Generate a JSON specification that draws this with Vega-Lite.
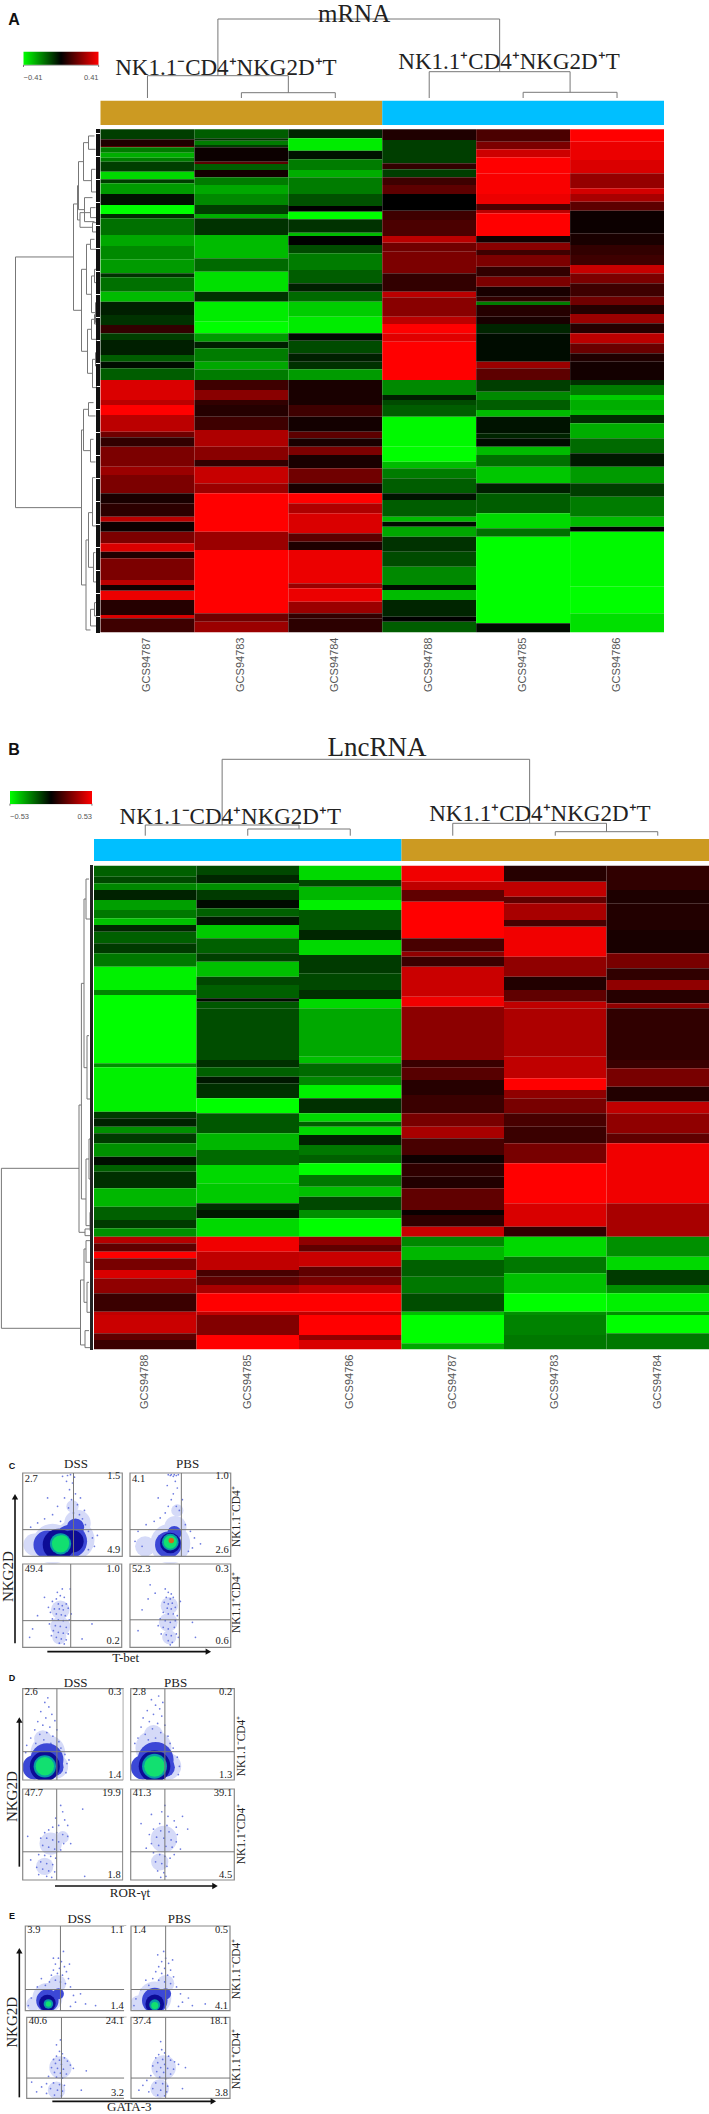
{"$schema":"https://vega.github.io/schema/vega-lite/v6.json","width":709,"height":2114,"autosize":"none","padding":0,"background":"white",
"config":{"view":{"stroke":null},"axis":{"disable":true},"text":{"font":"Liberation Serif","color":"#222"},"rule":{"color":"#777"}},
"datasets":{
"mask":[{"x":-7,"x2":107,"y":-7,"y2":0},{"x":-7,"x2":0,"y":-7,"y2":100}],
"frame":[{"x":0,"x2":100,"y":0,"y2":100}],
"bracketA":[{"l":1.5,"r":2.5,"h":5.3,"hl":0,"hr":0},{"l":0.5,"r":2,"h":22.3,"hl":0,"hr":5.3},{"l":4.5,"r":5.5,"h":5.7,"hl":0,"hr":0},{"l":3.5,"r":5,"h":26.3,"hl":0,"hr":5.7},{"l":1.25,"r":4.25,"h":79,"hl":22.3,"hr":26.3},{"l":-0.82,"r":-0.02,"h":33,"hl":31,"hr":31}],
"bracketB":[{"l":1.5,"r":2.5,"h":6.7,"hl":0,"hr":0},{"l":0.5,"r":2,"h":10.7,"hl":0,"hr":6.7},{"l":4.5,"r":5.5,"h":4,"hl":0,"hr":0},{"l":3.5,"r":5,"h":12.4,"hl":0,"hr":4},{"l":1.25,"r":4.25,"h":76.4,"hl":10.7,"hr":12.4},{"l":-0.82,"r":-0.02,"h":32,"hl":30,"hr":30}],
"heatA":[
{"s":"787","g":0,"h":30,"v":-0.1},{"s":"787","g":30,"h":50,"v":0.05},{"s":"787","g":50,"h":54,"v":0.15},{"s":"787","g":54,"h":70,"v":-0.2},{"s":"787","g":70,"h":85,"v":-0.28},{"s":"787","g":85,"h":97,"v":-0.2},{"s":"787","g":97,"h":127,"v":-0.1},{"s":"787","g":127,"h":150,"v":-0.35},{"s":"787","g":150,"h":162,"v":-0.1},{"s":"787","g":162,"h":194,"v":-0.25},{"s":"787","g":194,"h":227,"v":-0.03},{"s":"787","g":227,"h":254,"v":-0.41},{"s":"787","g":254,"h":267,"v":-0.07},{"s":"787","g":267,"h":317,"v":-0.18},{"s":"787","g":317,"h":350,"v":-0.27},{"s":"787","g":350,"h":390,"v":-0.22},{"s":"787","g":390,"h":432,"v":-0.25},{"s":"787","g":432,"h":444,"v":-0.08},{"s":"787","g":444,"h":487,"v":-0.18},{"s":"787","g":487,"h":517,"v":-0.3},{"s":"787","g":517,"h":557,"v":-0.05},{"s":"787","g":557,"h":587,"v":-0.08},{"s":"787","g":587,"h":612,"v":0.08},{"s":"787","g":612,"h":632,"v":-0.1},{"s":"787","g":632,"h":677,"v":-0.05},{"s":"787","g":677,"h":697,"v":-0.15},{"s":"787","g":697,"h":717,"v":-0.02},{"s":"787","g":717,"h":752,"v":-0.15},{"s":"787","g":752,"h":812,"v":0.35},{"s":"787","g":812,"h":827,"v":0.3},{"s":"787","g":827,"h":857,"v":0.41},{"s":"787","g":857,"h":907,"v":0.3},{"s":"787","g":907,"h":924,"v":0.18},{"s":"787","g":924,"h":952,"v":0.08},{"s":"787","g":952,"h":1012,"v":0.2},{"s":"787","g":1012,"h":1037,"v":0.25},{"s":"787","g":1037,"h":1092,"v":0.2},{"s":"787","g":1092,"h":1122,"v":0.04},{"s":"787","g":1122,"h":1162,"v":0.07},{"s":"787","g":1162,"h":1177,"v":0.3},{"s":"787","g":1177,"h":1207,"v":0.02},{"s":"787","g":1207,"h":1242,"v":0.2},{"s":"787","g":1242,"h":1267,"v":0.35},{"s":"787","g":1267,"h":1287,"v":0.05},{"s":"787","g":1287,"h":1352,"v":0.2},{"s":"787","g":1352,"h":1367,"v":0.3},{"s":"787","g":1367,"h":1384,"v":0.03},{"s":"787","g":1384,"h":1412,"v":0.38},{"s":"787","g":1412,"h":1457,"v":0.06},{"s":"787","g":1457,"h":1467,"v":0.35},{"s":"787","g":1467,"h":1509,"v":0.1},
{"s":"783","g":0,"h":27,"v":-0.15},{"s":"783","g":27,"h":34,"v":-0.08},{"s":"783","g":34,"h":47,"v":-0.2},{"s":"783","g":47,"h":54,"v":-0.1},{"s":"783","g":54,"h":97,"v":0.02},{"s":"783","g":97,"h":104,"v":0.15},{"s":"783","g":104,"h":122,"v":-0.15},{"s":"783","g":122,"h":144,"v":0.03},{"s":"783","g":144,"h":167,"v":-0.2},{"s":"783","g":167,"h":194,"v":-0.27},{"s":"783","g":194,"h":227,"v":-0.22},{"s":"783","g":227,"h":254,"v":-0.1},{"s":"783","g":254,"h":267,"v":-0.28},{"s":"783","g":267,"h":317,"v":-0.08},{"s":"783","g":317,"h":387,"v":-0.3},{"s":"783","g":387,"h":427,"v":-0.17},{"s":"783","g":427,"h":487,"v":-0.36},{"s":"783","g":487,"h":517,"v":-0.08},{"s":"783","g":517,"h":577,"v":-0.38},{"s":"783","g":577,"h":612,"v":-0.41},{"s":"783","g":612,"h":637,"v":-0.25},{"s":"783","g":637,"h":657,"v":-0.05},{"s":"783","g":657,"h":697,"v":-0.2},{"s":"783","g":697,"h":720,"v":-0.27},{"s":"783","g":720,"h":752,"v":-0.2},{"s":"783","g":752,"h":782,"v":0.1},{"s":"783","g":782,"h":812,"v":0.22},{"s":"783","g":812,"h":827,"v":0.08},{"s":"783","g":827,"h":862,"v":0.06},{"s":"783","g":862,"h":902,"v":0.1},{"s":"783","g":902,"h":952,"v":0.28},{"s":"783","g":952,"h":992,"v":0.22},{"s":"783","g":992,"h":1012,"v":0.08},{"s":"783","g":1012,"h":1062,"v":0.32},{"s":"783","g":1062,"h":1092,"v":0.25},{"s":"783","g":1092,"h":1207,"v":0.41},{"s":"783","g":1207,"h":1262,"v":0.25},{"s":"783","g":1262,"h":1452,"v":0.41},{"s":"783","g":1452,"h":1477,"v":0.18},{"s":"783","g":1477,"h":1509,"v":0.25},
{"s":"784","g":0,"h":27,"v":-0.06},{"s":"784","g":27,"h":64,"v":-0.38},{"s":"784","g":64,"h":90,"v":-0.03},{"s":"784","g":90,"h":122,"v":-0.2},{"s":"784","g":122,"h":144,"v":-0.28},{"s":"784","g":144,"h":194,"v":-0.2},{"s":"784","g":194,"h":230,"v":-0.13},{"s":"784","g":230,"h":247,"v":0},{"s":"784","g":247,"h":270,"v":-0.41},{"s":"784","g":270,"h":310,"v":-0.08},{"s":"784","g":310,"h":320,"v":-0.3},{"s":"784","g":320,"h":347,"v":0},{"s":"784","g":347,"h":372,"v":-0.12},{"s":"784","g":372,"h":422,"v":-0.2},{"s":"784","g":422,"h":462,"v":-0.15},{"s":"784","g":462,"h":487,"v":-0.05},{"s":"784","g":487,"h":517,"v":-0.17},{"s":"784","g":517,"h":562,"v":-0.33},{"s":"784","g":562,"h":612,"v":-0.38},{"s":"784","g":612,"h":634,"v":-0.02},{"s":"784","g":634,"h":672,"v":-0.12},{"s":"784","g":672,"h":697,"v":-0.05},{"s":"784","g":697,"h":720,"v":-0.08},{"s":"784","g":720,"h":752,"v":-0.25},{"s":"784","g":752,"h":812,"v":0.04},{"s":"784","g":812,"h":827,"v":0.04},{"s":"784","g":827,"h":862,"v":0.1},{"s":"784","g":862,"h":907,"v":0.03},{"s":"784","g":907,"h":927,"v":0.15},{"s":"784","g":927,"h":952,"v":0.04},{"s":"784","g":952,"h":977,"v":0.2},{"s":"784","g":977,"h":1017,"v":0.04},{"s":"784","g":1017,"h":1062,"v":0.18},{"s":"784","g":1062,"h":1092,"v":0.04},{"s":"784","g":1092,"h":1122,"v":0.41},{"s":"784","g":1122,"h":1152,"v":0.28},{"s":"784","g":1152,"h":1212,"v":0.35},{"s":"784","g":1212,"h":1237,"v":0.15},{"s":"784","g":1237,"h":1262,"v":0.05},{"s":"784","g":1262,"h":1362,"v":0.38},{"s":"784","g":1362,"h":1377,"v":0.25},{"s":"784","g":1377,"h":1417,"v":0.38},{"s":"784","g":1417,"h":1452,"v":0.25},{"s":"784","g":1452,"h":1467,"v":0.08},{"s":"784","g":1467,"h":1509,"v":0.07},
{"s":"788","g":0,"h":32,"v":0.05},{"s":"788","g":32,"h":102,"v":-0.1},{"s":"788","g":102,"h":120,"v":0.08},{"s":"788","g":120,"h":144,"v":-0.1},{"s":"788","g":144,"h":167,"v":0.1},{"s":"788","g":167,"h":194,"v":0.15},{"s":"788","g":194,"h":244,"v":0},{"s":"788","g":244,"h":272,"v":0.1},{"s":"788","g":272,"h":320,"v":0.12},{"s":"788","g":320,"h":340,"v":0.3},{"s":"788","g":340,"h":367,"v":0.18},{"s":"788","g":367,"h":432,"v":0.2},{"s":"788","g":432,"h":487,"v":0.08},{"s":"788","g":487,"h":504,"v":0.3},{"s":"788","g":504,"h":562,"v":0.22},{"s":"788","g":562,"h":584,"v":0.3},{"s":"788","g":584,"h":612,"v":0.41},{"s":"788","g":612,"h":637,"v":0.36},{"s":"788","g":637,"h":752,"v":0.41},{"s":"788","g":752,"h":797,"v":-0.22},{"s":"788","g":797,"h":812,"v":-0.05},{"s":"788","g":812,"h":827,"v":-0.12},{"s":"788","g":827,"h":862,"v":-0.15},{"s":"788","g":862,"h":952,"v":-0.4},{"s":"788","g":952,"h":997,"v":-0.41},{"s":"788","g":997,"h":1017,"v":-0.3},{"s":"788","g":1017,"h":1047,"v":-0.2},{"s":"788","g":1047,"h":1092,"v":-0.15},{"s":"788","g":1092,"h":1112,"v":-0.03},{"s":"788","g":1112,"h":1162,"v":-0.15},{"s":"788","g":1162,"h":1177,"v":-0.3},{"s":"788","g":1177,"h":1192,"v":-0.02},{"s":"788","g":1192,"h":1222,"v":-0.27},{"s":"788","g":1222,"h":1267,"v":-0.08},{"s":"788","g":1267,"h":1312,"v":-0.12},{"s":"788","g":1312,"h":1367,"v":-0.22},{"s":"788","g":1367,"h":1382,"v":-0.02},{"s":"788","g":1382,"h":1412,"v":-0.3},{"s":"788","g":1412,"h":1462,"v":-0.06},{"s":"788","g":1462,"h":1477,"v":0},{"s":"788","g":1477,"h":1509,"v":-0.15},
{"s":"785","g":0,"h":37,"v":0.12},{"s":"785","g":37,"h":60,"v":0.2},{"s":"785","g":60,"h":84,"v":0.33},{"s":"785","g":84,"h":132,"v":0.41},{"s":"785","g":132,"h":194,"v":0.4},{"s":"785","g":194,"h":224,"v":0.38},{"s":"785","g":224,"h":242,"v":0.12},{"s":"785","g":242,"h":252,"v":0.3},{"s":"785","g":252,"h":320,"v":0.41},{"s":"785","g":320,"h":340,"v":0.03},{"s":"785","g":340,"h":362,"v":0.22},{"s":"785","g":362,"h":377,"v":0.1},{"s":"785","g":377,"h":412,"v":0.2},{"s":"785","g":412,"h":442,"v":0.08},{"s":"785","g":442,"h":472,"v":0.2},{"s":"785","g":472,"h":502,"v":0.04},{"s":"785","g":502,"h":517,"v":0.08},{"s":"785","g":517,"h":527,"v":-0.2},{"s":"785","g":527,"h":562,"v":0.06},{"s":"785","g":562,"h":584,"v":0.04},{"s":"785","g":584,"h":612,"v":-0.06},{"s":"785","g":612,"h":697,"v":-0.02},{"s":"785","g":697,"h":717,"v":0.25},{"s":"785","g":717,"h":752,"v":0.15},{"s":"785","g":752,"h":787,"v":-0.1},{"s":"785","g":787,"h":812,"v":-0.22},{"s":"785","g":812,"h":842,"v":-0.15},{"s":"785","g":842,"h":862,"v":-0.3},{"s":"785","g":862,"h":912,"v":-0.03},{"s":"785","g":912,"h":927,"v":-0.06},{"s":"785","g":927,"h":952,"v":-0.02},{"s":"785","g":952,"h":977,"v":-0.3},{"s":"785","g":977,"h":1012,"v":-0.18},{"s":"785","g":1012,"h":1062,"v":-0.32},{"s":"785","g":1062,"h":1092,"v":-0.05},{"s":"785","g":1092,"h":1152,"v":-0.15},{"s":"785","g":1152,"h":1197,"v":-0.35},{"s":"785","g":1197,"h":1222,"v":-0.18},{"s":"785","g":1222,"h":1482,"v":-0.41},{"s":"785","g":1482,"h":1509,"v":-0.02},
{"s":"786","g":0,"h":37,"v":0.41},{"s":"786","g":37,"h":92,"v":0.38},{"s":"786","g":92,"h":132,"v":0.35},{"s":"786","g":132,"h":177,"v":0.24},{"s":"786","g":177,"h":194,"v":0.34},{"s":"786","g":194,"h":217,"v":0.27},{"s":"786","g":217,"h":244,"v":0.15},{"s":"786","g":244,"h":312,"v":0.02},{"s":"786","g":312,"h":347,"v":0.04},{"s":"786","g":347,"h":377,"v":0.08},{"s":"786","g":377,"h":407,"v":0.1},{"s":"786","g":407,"h":432,"v":0.32},{"s":"786","g":432,"h":462,"v":0.2},{"s":"786","g":462,"h":502,"v":0.1},{"s":"786","g":502,"h":527,"v":0.18},{"s":"786","g":527,"h":554,"v":0.06},{"s":"786","g":554,"h":582,"v":0.25},{"s":"786","g":582,"h":612,"v":0.06},{"s":"786","g":612,"h":642,"v":0.3},{"s":"786","g":642,"h":672,"v":0.17},{"s":"786","g":672,"h":697,"v":0.05},{"s":"786","g":697,"h":752,"v":0.03},{"s":"786","g":752,"h":767,"v":-0.08},{"s":"786","g":767,"h":797,"v":-0.2},{"s":"786","g":797,"h":812,"v":-0.33},{"s":"786","g":812,"h":842,"v":-0.28},{"s":"786","g":842,"h":857,"v":-0.3},{"s":"786","g":857,"h":882,"v":-0.07},{"s":"786","g":882,"h":927,"v":-0.28},{"s":"786","g":927,"h":972,"v":-0.17},{"s":"786","g":972,"h":1012,"v":-0.04},{"s":"786","g":1012,"h":1062,"v":-0.25},{"s":"786","g":1062,"h":1102,"v":-0.1},{"s":"786","g":1102,"h":1162,"v":-0.2},{"s":"786","g":1162,"h":1192,"v":-0.3},{"s":"786","g":1192,"h":1207,"v":0},{"s":"786","g":1207,"h":1372,"v":-0.4},{"s":"786","g":1372,"h":1452,"v":-0.41},{"s":"786","g":1452,"h":1509,"v":-0.36}],
"heatB":[
{"s":"788","g":0,"h":33,"v":-0.2},{"s":"788","g":33,"h":53,"v":-0.15},{"s":"788","g":53,"h":73,"v":-0.28},{"s":"788","g":73,"h":103,"v":-0.07},{"s":"788","g":103,"h":133,"v":-0.33},{"s":"788","g":133,"h":158,"v":-0.25},{"s":"788","g":158,"h":178,"v":-0.4},{"s":"788","g":178,"h":198,"v":-0.08},{"s":"788","g":198,"h":233,"v":-0.2},{"s":"788","g":233,"h":263,"v":-0.12},{"s":"788","g":263,"h":303,"v":-0.25},{"s":"788","g":303,"h":373,"v":-0.5},{"s":"788","g":373,"h":388,"v":-0.28},{"s":"788","g":388,"h":593,"v":-0.53},{"s":"788","g":593,"h":605,"v":-0.3},{"s":"788","g":605,"h":738,"v":-0.5},{"s":"788","g":738,"h":758,"v":-0.12},{"s":"788","g":758,"h":783,"v":-0.07},{"s":"788","g":783,"h":803,"v":-0.3},{"s":"788","g":803,"h":833,"v":-0.12},{"s":"788","g":833,"h":873,"v":-0.3},{"s":"788","g":873,"h":898,"v":-0.03},{"s":"788","g":898,"h":918,"v":-0.2},{"s":"788","g":918,"h":968,"v":-0.1},{"s":"788","g":968,"h":1023,"v":-0.38},{"s":"788","g":1023,"h":1063,"v":-0.2},{"s":"788","g":1063,"h":1088,"v":-0.12},{"s":"788","g":1088,"h":1113,"v":-0.3},{"s":"788","g":1113,"h":1133,"v":0.38},{"s":"788","g":1133,"h":1158,"v":0.2},{"s":"788","g":1158,"h":1178,"v":0.53},{"s":"788","g":1178,"h":1213,"v":0.25},{"s":"788","g":1213,"h":1238,"v":0.45},{"s":"788","g":1238,"h":1283,"v":0.3},{"s":"788","g":1283,"h":1338,"v":0.12},{"s":"788","g":1338,"h":1348,"v":0.4},{"s":"788","g":1348,"h":1403,"v":0.42},{"s":"788","g":1403,"h":1423,"v":0.2},{"s":"788","g":1423,"h":1451,"v":0.12},
{"s":"785","g":0,"h":28,"v":-0.15},{"s":"785","g":28,"h":53,"v":-0.08},{"s":"785","g":53,"h":73,"v":-0.3},{"s":"785","g":73,"h":103,"v":-0.12},{"s":"785","g":103,"h":128,"v":-0.02},{"s":"785","g":128,"h":153,"v":-0.2},{"s":"785","g":153,"h":178,"v":-0.05},{"s":"785","g":178,"h":218,"v":-0.42},{"s":"785","g":218,"h":263,"v":-0.2},{"s":"785","g":263,"h":288,"v":-0.13},{"s":"785","g":288,"h":333,"v":-0.4},{"s":"785","g":333,"h":358,"v":-0.15},{"s":"785","g":358,"h":398,"v":-0.2},{"s":"785","g":398,"h":408,"v":-0.02},{"s":"785","g":408,"h":428,"v":-0.18},{"s":"785","g":428,"h":583,"v":-0.16},{"s":"785","g":583,"h":605,"v":-0.1},{"s":"785","g":605,"h":633,"v":-0.2},{"s":"785","g":633,"h":653,"v":-0.05},{"s":"785","g":653,"h":698,"v":-0.1},{"s":"785","g":698,"h":743,"v":-0.53},{"s":"785","g":743,"h":803,"v":-0.18},{"s":"785","g":803,"h":853,"v":-0.38},{"s":"785","g":853,"h":898,"v":-0.22},{"s":"785","g":898,"h":953,"v":-0.45},{"s":"785","g":953,"h":1013,"v":-0.42},{"s":"785","g":1013,"h":1033,"v":-0.1},{"s":"785","g":1033,"h":1058,"v":-0.05},{"s":"785","g":1058,"h":1113,"v":-0.45},{"s":"785","g":1113,"h":1158,"v":0.5},{"s":"785","g":1158,"h":1213,"v":0.4},{"s":"785","g":1213,"h":1233,"v":0.15},{"s":"785","g":1233,"h":1258,"v":0.2},{"s":"785","g":1258,"h":1283,"v":0.35},{"s":"785","g":1283,"h":1338,"v":0.53},{"s":"785","g":1338,"h":1348,"v":0.4},{"s":"785","g":1348,"h":1408,"v":0.27},{"s":"785","g":1408,"h":1451,"v":0.53},
{"s":"786","g":0,"h":43,"v":-0.45},{"s":"786","g":43,"h":63,"v":-0.15},{"s":"786","g":63,"h":103,"v":-0.38},{"s":"786","g":103,"h":133,"v":-0.5},{"s":"786","g":133,"h":193,"v":-0.18},{"s":"786","g":193,"h":223,"v":-0.08},{"s":"786","g":223,"h":268,"v":-0.45},{"s":"786","g":268,"h":323,"v":-0.12},{"s":"786","g":323,"h":373,"v":-0.15},{"s":"786","g":373,"h":400,"v":-0.1},{"s":"786","g":400,"h":428,"v":-0.45},{"s":"786","g":428,"h":573,"v":-0.35},{"s":"786","g":573,"h":593,"v":-0.4},{"s":"786","g":593,"h":633,"v":-0.22},{"s":"786","g":633,"h":658,"v":-0.28},{"s":"786","g":658,"h":698,"v":-0.5},{"s":"786","g":698,"h":743,"v":-0.1},{"s":"786","g":743,"h":768,"v":-0.45},{"s":"786","g":768,"h":783,"v":-0.2},{"s":"786","g":783,"h":808,"v":-0.45},{"s":"786","g":808,"h":838,"v":-0.07},{"s":"786","g":838,"h":868,"v":-0.25},{"s":"786","g":868,"h":893,"v":-0.2},{"s":"786","g":893,"h":928,"v":-0.53},{"s":"786","g":928,"h":963,"v":-0.25},{"s":"786","g":963,"h":993,"v":-0.4},{"s":"786","g":993,"h":1033,"v":-0.15},{"s":"786","g":1033,"h":1058,"v":-0.3},{"s":"786","g":1058,"h":1113,"v":-0.53},{"s":"786","g":1113,"h":1138,"v":0.3},{"s":"786","g":1138,"h":1158,"v":0.2},{"s":"786","g":1158,"h":1203,"v":0.42},{"s":"786","g":1203,"h":1233,"v":0.2},{"s":"786","g":1233,"h":1258,"v":0.25},{"s":"786","g":1258,"h":1283,"v":0.4},{"s":"786","g":1283,"h":1338,"v":0.53},{"s":"786","g":1338,"h":1348,"v":0.4},{"s":"786","g":1348,"h":1408,"v":0.53},{"s":"786","g":1408,"h":1423,"v":0.3},{"s":"786","g":1423,"h":1451,"v":0.45},
{"s":"787","g":0,"h":48,"v":0.5},{"s":"787","g":48,"h":73,"v":0.4},{"s":"787","g":73,"h":108,"v":0.2},{"s":"787","g":108,"h":218,"v":0.53},{"s":"787","g":218,"h":258,"v":0.15},{"s":"787","g":258,"h":273,"v":0.3},{"s":"787","g":273,"h":303,"v":0.12},{"s":"787","g":303,"h":393,"v":0.42},{"s":"787","g":393,"h":423,"v":0.5},{"s":"787","g":423,"h":583,"v":0.29},{"s":"787","g":583,"h":605,"v":0.12},{"s":"787","g":605,"h":643,"v":0.18},{"s":"787","g":643,"h":688,"v":0.08},{"s":"787","g":688,"h":743,"v":0.12},{"s":"787","g":743,"h":783,"v":0.25},{"s":"787","g":783,"h":818,"v":0.35},{"s":"787","g":818,"h":868,"v":0.15},{"s":"787","g":868,"h":893,"v":0.03},{"s":"787","g":893,"h":933,"v":0.1},{"s":"787","g":933,"h":968,"v":0.07},{"s":"787","g":968,"h":1033,"v":0.2},{"s":"787","g":1033,"h":1048,"v":0.02},{"s":"787","g":1048,"h":1083,"v":0.1},{"s":"787","g":1083,"h":1113,"v":0.42},{"s":"787","g":1113,"h":1143,"v":-0.28},{"s":"787","g":1143,"h":1183,"v":-0.38},{"s":"787","g":1183,"h":1233,"v":-0.2},{"s":"787","g":1233,"h":1283,"v":-0.25},{"s":"787","g":1283,"h":1338,"v":-0.16},{"s":"787","g":1338,"h":1348,"v":-0.4},{"s":"787","g":1348,"h":1433,"v":-0.53},{"s":"787","g":1433,"h":1451,"v":-0.35},
{"s":"783","g":0,"h":48,"v":0.08},{"s":"783","g":48,"h":93,"v":0.4},{"s":"783","g":93,"h":113,"v":0.2},{"s":"783","g":113,"h":163,"v":0.35},{"s":"783","g":163,"h":183,"v":0.15},{"s":"783","g":183,"h":273,"v":0.5},{"s":"783","g":273,"h":333,"v":0.3},{"s":"783","g":333,"h":373,"v":0.07},{"s":"783","g":373,"h":408,"v":0.2},{"s":"783","g":408,"h":428,"v":0.4},{"s":"783","g":428,"h":573,"v":0.36},{"s":"783","g":573,"h":638,"v":0.4},{"s":"783","g":638,"h":673,"v":0.53},{"s":"783","g":673,"h":698,"v":0.3},{"s":"783","g":698,"h":743,"v":0.25},{"s":"783","g":743,"h":783,"v":0.15},{"s":"783","g":783,"h":833,"v":0.12},{"s":"783","g":833,"h":893,"v":0.25},{"s":"783","g":893,"h":1013,"v":0.53},{"s":"783","g":1013,"h":1083,"v":0.45},{"s":"783","g":1083,"h":1113,"v":0.1},{"s":"783","g":1113,"h":1173,"v":-0.45},{"s":"783","g":1173,"h":1223,"v":-0.25},{"s":"783","g":1223,"h":1283,"v":-0.4},{"s":"783","g":1283,"h":1338,"v":-0.53},{"s":"783","g":1338,"h":1348,"v":-0.3},{"s":"783","g":1348,"h":1408,"v":-0.27},{"s":"783","g":1408,"h":1451,"v":-0.25},
{"s":"784","g":0,"h":73,"v":0.1},{"s":"784","g":73,"h":113,"v":0.06},{"s":"784","g":113,"h":193,"v":0.07},{"s":"784","g":193,"h":263,"v":0.05},{"s":"784","g":263,"h":308,"v":0.25},{"s":"784","g":308,"h":343,"v":0.1},{"s":"784","g":343,"h":373,"v":0.3},{"s":"784","g":373,"h":413,"v":0.08},{"s":"784","g":413,"h":428,"v":0.3},{"s":"784","g":428,"h":583,"v":0.1},{"s":"784","g":583,"h":608,"v":0.12},{"s":"784","g":608,"h":663,"v":0.25},{"s":"784","g":663,"h":708,"v":0.07},{"s":"784","g":708,"h":743,"v":0.4},{"s":"784","g":743,"h":803,"v":0.3},{"s":"784","g":803,"h":833,"v":0.2},{"s":"784","g":833,"h":1013,"v":0.5},{"s":"784","g":1013,"h":1113,"v":0.35},{"s":"784","g":1113,"h":1173,"v":-0.3},{"s":"784","g":1173,"h":1213,"v":-0.45},{"s":"784","g":1213,"h":1258,"v":-0.12},{"s":"784","g":1258,"h":1283,"v":-0.3},{"s":"784","g":1283,"h":1338,"v":-0.5},{"s":"784","g":1338,"h":1348,"v":-0.3},{"s":"784","g":1348,"h":1403,"v":-0.53},{"s":"784","g":1403,"h":1451,"v":-0.25}]
},
"resolve":{"scale":{"x":"independent","y":"independent","color":"independent","size":"independent"}},
"layer":[
{"data":{"name":"heatA"},"mark":"rect","encoding":{"x":{"field":"s","type":"nominal","scale":{"domain":["787","783","784","788","785","786"],"range":[100.5,664],"paddingInner":0,"paddingOuter":0},"axis":{"disable":false,"orient":"bottom","offset":-1477,"title":null,"domain":false,"ticks":false,"grid":false,"labelAngle":270,"labelAlign":"right","labelBaseline":"middle","labelPadding":0,"labelFont":"Liberation Sans","labelFontSize":11,"labelColor":"#555","labelExpr":"'GCS94'+datum.label"}},"y":{"field":"g","type":"quantitative","scale":{"domain":[0,1509],"range":[129.3,632.3]}},"y2":{"field":"h"},"color":{"field":"v","type":"quantitative","scale":{"domain":[-0.41,0,0.41],"range":["#00ff00","#000000","#ff0000"],"interpolate":"rgb"},"legend":{"orient":"none","legendX":23.5,"legendY":51.7,"direction":"horizontal","title":null,"gradientLength":75,"gradientThickness":13,"values":[-0.41,0.41],"format":".2f","labelFontSize":7.5,"labelColor":"#555","labelFont":"Liberation Sans","labelOverlap":false,"labelOffset":9}}}},
{"data":{"values":[{"d":85,"t":383,"b":1135,"dt":27,"db":19},{"d":27,"t":224,"b":543,"dt":23,"db":19},{"d":23,"t":169,"b":272,"dt":22,"db":20.5},{"d":22,"t":97,"b":241,"dt":17,"db":16},{"d":17,"t":40,"b":154,"dt":12,"db":9},{"d":12,"t":20,"b":60,"dt":6,"db":5},{"d":9,"t":120,"b":188,"dt":5,"db":4},{"d":16,"t":205,"b":277,"dt":8,"db":6},{"d":20.5,"t":250,"b":294,"dt":10,"db":8},{"d":10,"t":235,"b":265,"dt":5,"db":4},{"d":8,"t":280,"b":308,"dt":4,"db":3},{"d":19,"t":420,"b":666,"dt":14,"db":13},{"d":14,"t":345,"b":495,"dt":10,"db":9},{"d":10,"t":330,"b":360,"dt":6,"db":4},{"d":9,"t":440,"b":550,"dt":6,"db":5},{"d":6,"t":420,"b":460,"dt":3,"db":3},{"d":5,"t":520,"b":580,"dt":3,"db":2},{"d":13,"t":600,"b":732,"dt":9,"db":8},{"d":9,"t":570,"b":630,"dt":6,"db":4},{"d":8,"t":690,"b":775,"dt":5,"db":4},{"d":6,"t":556,"b":584,"dt":3,"db":2},{"d":4,"t":600,"b":650,"dt":2,"db":2},{"d":5,"t":670,"b":710,"dt":3,"db":2},{"d":4,"t":745,"b":800,"dt":2,"db":2},{"d":19,"t":902,"b":1367,"dt":17,"db":14.5},{"d":17,"t":840,"b":964,"dt":12,"db":10},{"d":12,"t":820,"b":860,"dt":7,"db":5},{"d":10,"t":930,"b":998,"dt":7,"db":5},{"d":14.5,"t":1232,"b":1502,"dt":12,"db":10},{"d":12,"t":1150,"b":1314,"dt":8,"db":7},{"d":10,"t":1440,"b":1490,"dt":6,"db":4},{"d":8,"t":1045,"b":1190,"dt":5,"db":4},{"d":7,"t":1270,"b":1358,"dt":5,"db":4},{"d":6,"t":1420,"b":1460,"dt":3,"db":3}]},
"encoding":{"x":{"field":"d","type":"quantitative","scale":{"domain":[100.5,0],"range":[0,100.5]}},"y":{"field":"t","type":"quantitative","scale":{"domain":[0,1509],"range":[129.3,632.3]}}},
"layer":[
{"mark":"rule","encoding":{"y2":{"field":"b"}}},
{"mark":"rule","encoding":{"x2":{"field":"dt"}}},
{"mark":"rule","encoding":{"x2":{"field":"db"},"y":{"field":"b","type":"quantitative"}}},
{"mark":{"type":"rule","strokeWidth":3,"color":"#111","strokeDash":[1.5,0.8]},"encoding":{"x":{"datum":2.5},"y":{"datum":0},"y2":{"datum":1509}}}
]},
{"encoding":{"x":{"field":"l","type":"quantitative","scale":{"domain":[0,6],"range":[100.5,664]}},"y":{"field":"h","type":"quantitative","scale":{"domain":[0,98],"range":[98,0]}}},
"layer":[
{"data":{"values":[{"l":0,"r":3,"k":"gold","h":-2.7,"i":-27},{"l":3,"r":6,"k":"blue","h":-2.7,"i":-27}]},"mark":"rect","encoding":{"x2":{"field":"r"},"y2":{"field":"i"},"color":{"field":"k","type":"nominal","scale":{"domain":["gold","blue"],"range":["#cc9a22","#00bfff"]},"legend":null}}},
{"data":{"name":"bracketA"},"mark":"rule","encoding":{"x2":{"field":"r"}}},
{"data":{"name":"bracketA"},"mark":"rule","encoding":{"y2":{"field":"hl"}}},
{"data":{"name":"bracketA"},"mark":"rule","encoding":{"x":{"field":"r","type":"quantitative"},"y2":{"field":"hr"}}},
{"data":{"values":[{"l":2.7,"h":76,"t":"mRNA"}]},"mark":{"type":"text","fontSize":25,"baseline":"alphabetic"},"encoding":{"text":{"field":"t"}}},
{"data":{"values":[{"l":1.335,"h":23,"t":"NK1.1⁻CD4⁺NKG2D⁺T"},{"l":4.35,"h":29,"t":"NK1.1⁺CD4⁺NKG2D⁺T"}]},"mark":{"type":"text","fontSize":23,"baseline":"alphabetic"},"encoding":{"text":{"field":"t"}}},
{"data":{"values":[{"l":-0.92,"h":73,"t":"A"}]},"mark":{"type":"text","font":"Liberation Sans","fontWeight":"bold","fontSize":16,"baseline":"alphabetic","color":"#111"},"encoding":{"text":{"field":"t"}}}
]},
{"data":{"name":"heatB"},"mark":"rect","encoding":{"x":{"field":"s","type":"nominal","scale":{"domain":["788","785","786","787","783","784"],"range":[94,709],"paddingInner":0,"paddingOuter":0},"axis":{"disable":false,"orient":"bottom","offset":-760,"title":null,"domain":false,"ticks":false,"grid":false,"labelAngle":270,"labelAlign":"right","labelBaseline":"middle","labelPadding":0,"labelFont":"Liberation Sans","labelFontSize":11,"labelColor":"#555","labelExpr":"'GCS94'+datum.label"}},"y":{"field":"g","type":"quantitative","scale":{"domain":[0,1451],"range":[865.7,1349.3]}},"y2":{"field":"h"},"color":{"field":"v","type":"quantitative","scale":{"domain":[-0.53,0,0.53],"range":["#00ff00","#000000","#ff0000"],"interpolate":"rgb"},"legend":{"orient":"none","legendX":10,"legendY":791,"direction":"horizontal","title":null,"gradientLength":82,"gradientThickness":13,"values":[-0.53,0.53],"format":".2f","labelFontSize":7.5,"labelColor":"#555","labelFont":"Liberation Sans","labelOverlap":false,"labelOffset":9}}}},
{"data":{"values":[{"d":92.6,"t":908,"b":1388,"dt":15,"db":13.5},{"d":15,"t":718,"b":1100,"dt":12.6,"db":9},{"d":12.6,"t":353,"b":1000,"dt":10,"db":8},{"d":10,"t":100,"b":606,"dt":8,"db":7},{"d":8,"t":40,"b":160,"dt":5,"db":4},{"d":7,"t":510,"b":700,"dt":5,"db":4},{"d":8,"t":880,"b":1080,"dt":5,"db":4},{"d":5,"t":820,"b":940,"dt":3,"db":3},{"d":4,"t":1040,"b":1095,"dt":3,"db":2},{"d":9,"t":1090,"b":1110,"dt":3,"db":2},{"d":13.5,"t":1243,"b":1438,"dt":10,"db":9},{"d":10,"t":1150,"b":1310,"dt":8,"db":7},{"d":8,"t":1125,"b":1190,"dt":4,"db":3},{"d":7,"t":1250,"b":1340,"dt":5,"db":4},{"d":9,"t":1395,"b":1446,"dt":5,"db":4}]},
"encoding":{"x":{"field":"d","type":"quantitative","scale":{"domain":[94,0],"range":[0,94]}},"y":{"field":"t","type":"quantitative","scale":{"domain":[0,1451],"range":[865.7,1349.3]}}},
"layer":[
{"mark":"rule","encoding":{"y2":{"field":"b"}}},
{"mark":"rule","encoding":{"x2":{"field":"dt"}}},
{"mark":"rule","encoding":{"x2":{"field":"db"},"y":{"field":"b","type":"quantitative"}}},
{"mark":{"type":"rule","strokeWidth":3,"color":"#222","strokeDash":[1.5,1]},"encoding":{"x":{"datum":2.5},"y":{"datum":0},"y2":{"datum":1451}}}
]},
{"encoding":{"x":{"field":"l","type":"quantitative","scale":{"domain":[0,6],"range":[94,709]}},"y":{"field":"h","type":"quantitative","scale":{"domain":[0,98],"range":[835.7,737.7]}}},
"layer":[
{"data":{"values":[{"l":0,"r":3,"k":"blue","h":-3.3,"i":-25.3},{"l":3,"r":6,"k":"gold","h":-3.3,"i":-25.3}]},"mark":"rect","encoding":{"x2":{"field":"r"},"y2":{"field":"i"},"color":{"field":"k","type":"nominal","scale":{"domain":["gold","blue"],"range":["#cc9a22","#00bfff"]},"legend":null}}},
{"data":{"name":"bracketB"},"mark":"rule","encoding":{"x2":{"field":"r"}}},
{"data":{"name":"bracketB"},"mark":"rule","encoding":{"y2":{"field":"hl"}}},
{"data":{"name":"bracketB"},"mark":"rule","encoding":{"x":{"field":"r","type":"quantitative"},"y2":{"field":"hr"}}},
{"data":{"values":[{"l":2.76,"h":80,"t":"LncRNA"}]},"mark":{"type":"text","fontSize":27,"baseline":"alphabetic"},"encoding":{"text":{"field":"t"}}},
{"data":{"values":[{"l":1.33,"h":11.7,"t":"NK1.1⁻CD4⁺NKG2D⁺T"},{"l":4.35,"h":15,"t":"NK1.1⁺CD4⁺NKG2D⁺T"}]},"mark":{"type":"text","fontSize":23,"baseline":"alphabetic"},"encoding":{"text":{"field":"t"}}},
{"data":{"values":[{"l":-0.78,"h":80.7,"t":"B"}]},"mark":{"type":"text","font":"Liberation Sans","fontWeight":"bold","fontSize":16,"baseline":"alphabetic","color":"#111"},"encoding":{"text":{"field":"t"}}}
]},
{"encoding":{"x":{"field":"x","type":"quantitative","scale":{"domain":[0,100],"range":[22.7,122.3]}},"y":{"field":"y","type":"quantitative","scale":{"domain":[0,100],"range":[1556.3,1473]}}},"layer":[
{"data":{"values":[{"x":12,"y":14,"n":500,"d":1},{"x":30,"y":15,"n":1600,"d":1},{"x":52,"y":20,"n":1600,"d":1},{"x":55,"y":40,"n":700,"d":1},{"x":50,"y":60,"n":150,"d":1},{"x":25,"y":14,"n":800,"d":2},{"x":48,"y":18,"n":1100,"d":2},{"x":53,"y":35,"n":300,"d":2},{"x":36,"y":14,"n":1000,"d":3},{"x":50,"y":18,"n":500,"d":3},{"x":38,"y":15,"n":450,"d":4},{"x":38,"y":15,"n":300,"d":5},{"x":40,"y":18,"n":150,"d":5}]},"mark":{"type":"circle","opacity":1},"encoding":{"size":{"field":"n","type":"quantitative","scale":{"domain":[0,1000],"range":[0,1000]},"legend":null},"color":{"field":"d","type":"ordinal","scale":{"domain":[1,2,3,4,5,6],"range":["#d5daf8","#3c48d6","#0c0c96","#0a9aa8","#12e070","#d06a1a"]},"legend":null}}},
{"data":{"values":[{"x":45,"y":97},{"x":48,"y":98},{"x":40,"y":96},{"x":52,"y":95},{"x":50,"y":88},{"x":47,"y":80},{"x":53,"y":75},{"x":49,"y":68},{"x":55,"y":62},{"x":46,"y":58},{"x":51,"y":52},{"x":57,"y":50},{"x":60,"y":45},{"x":63,"y":38},{"x":42,"y":70},{"x":35,"y":60},{"x":30,"y":50},{"x":22,"y":45},{"x":15,"y":40},{"x":8,"y":35},{"x":38,"y":42},{"x":66,"y":30},{"x":70,"y":22},{"x":72,"y":12},{"x":66,"y":8},{"x":75,"y":25},{"x":62,"y":55},{"x":58,"y":70},{"x":44,"y":90},{"x":25,"y":70}]},"mark":{"type":"circle","size":3,"color":"#4a5bd8","opacity":0.8}},
{"data":{"name":"mask"},"mark":{"type":"rect","color":"white"},"encoding":{"x2":{"field":"x2"},"y2":{"field":"y2"}}},
{"data":{"name":"frame"},"mark":{"type":"rect","fill":null,"stroke":"#888","strokeWidth":1.2},"encoding":{"x2":{"field":"x2"},"y2":{"field":"y2"}}},
{"data":{"values":[{"x":51,"x2":51,"y":0,"y2":100},{"x":0,"x2":100,"y":32,"y2":32}]},"mark":"rule","encoding":{"x2":{"field":"x2"},"y2":{"field":"y2"}}},
{"data":{"values":[{"x":2,"y":93,"t":"2.7"}]},"mark":{"type":"text","align":"left","fontSize":10.5},"encoding":{"text":{"field":"t"}}},
{"data":{"values":[{"x":98,"y":96,"t":"1.5"},{"x":98,"y":7,"t":"4.9"}]},"mark":{"type":"text","align":"right","fontSize":10.5},"encoding":{"text":{"field":"t"}}}
]},
{"encoding":{"x":{"field":"x","type":"quantitative","scale":{"domain":[0,100],"range":[130,230.7]}},"y":{"field":"y","type":"quantitative","scale":{"domain":[0,100],"range":[1556.3,1473]}}},"layer":[
{"data":{"values":[{"x":15,"y":12,"n":400,"d":1},{"x":40,"y":15,"n":1600,"d":1},{"x":45,"y":35,"n":500,"d":1},{"x":47,"y":55,"n":150,"d":1},{"x":38,"y":14,"n":700,"d":2},{"x":44,"y":28,"n":200,"d":2},{"x":40,"y":16,"n":420,"d":3},{"x":40,"y":17,"n":280,"d":4},{"x":40,"y":17,"n":170,"d":5},{"x":41,"y":19,"n":30,"d":6}]},"mark":{"type":"circle","opacity":1},"encoding":{"size":{"field":"n","type":"quantitative","scale":{"domain":[0,1000],"range":[0,1000]},"legend":null},"color":{"field":"d","type":"ordinal","scale":{"domain":[1,2,3,4,5,6],"range":["#d5daf8","#3c48d6","#0c0c96","#0a9aa8","#12e070","#d06a1a"]},"legend":null}}},
{"data":{"values":[{"x":38,"y":98},{"x":41,"y":98},{"x":44,"y":98},{"x":46,"y":97},{"x":40,"y":97},{"x":48,"y":98},{"x":43,"y":96},{"x":45,"y":90},{"x":47,"y":82},{"x":43,"y":75},{"x":41,"y":68},{"x":46,"y":60},{"x":49,"y":55},{"x":38,"y":60},{"x":35,"y":52},{"x":30,"y":46},{"x":24,"y":42},{"x":16,"y":38},{"x":8,"y":30},{"x":5,"y":18},{"x":55,"y":38},{"x":60,"y":30},{"x":64,"y":22},{"x":62,"y":10},{"x":58,"y":6},{"x":70,"y":15},{"x":28,"y":70},{"x":52,"y":68},{"x":37,"y":85},{"x":12,"y":12}]},"mark":{"type":"circle","size":3,"color":"#4a5bd8","opacity":0.8}},
{"data":{"name":"mask"},"mark":{"type":"rect","color":"white"},"encoding":{"x2":{"field":"x2"},"y2":{"field":"y2"}}},
{"data":{"name":"frame"},"mark":{"type":"rect","fill":null,"stroke":"#888","strokeWidth":1.2},"encoding":{"x2":{"field":"x2"},"y2":{"field":"y2"}}},
{"data":{"values":[{"x":51,"x2":51,"y":0,"y2":100},{"x":0,"x2":100,"y":32,"y2":32}]},"mark":"rule","encoding":{"x2":{"field":"x2"},"y2":{"field":"y2"}}},
{"data":{"values":[{"x":2,"y":93,"t":"4.1"}]},"mark":{"type":"text","align":"left","fontSize":10.5},"encoding":{"text":{"field":"t"}}},
{"data":{"values":[{"x":98,"y":96,"t":"1.0"},{"x":98,"y":7,"t":"2.6"}]},"mark":{"type":"text","align":"right","fontSize":10.5},"encoding":{"text":{"field":"t"}}}
]},
{"encoding":{"x":{"field":"x","type":"quantitative","scale":{"domain":[0,100],"range":[22.7,121.7]}},"y":{"field":"y","type":"quantitative","scale":{"domain":[0,100],"range":[1647.3,1564]}}},"layer":[
{"data":{"values":[{"x":38,"y":45,"n":350,"d":1},{"x":38,"y":25,"n":400,"d":1},{"x":37,"y":12,"n":200,"d":1}]},"mark":{"type":"circle","opacity":1},"encoding":{"size":{"field":"n","type":"quantitative","scale":{"domain":[0,1000],"range":[0,1000]},"legend":null},"color":{"field":"d","type":"ordinal","scale":{"domain":[1,2,3,4,5,6],"range":["#d5daf8","#3c48d6","#0c0c96","#0a9aa8","#12e070","#d06a1a"]},"legend":null}}},
{"data":{"values":[{"x":30,"y":55},{"x":34,"y":58},{"x":38,"y":62},{"x":42,"y":60},{"x":36,"y":52},{"x":40,"y":50},{"x":44,"y":52},{"x":32,"y":46},{"x":37,"y":46},{"x":41,"y":45},{"x":46,"y":47},{"x":28,"y":42},{"x":34,"y":40},{"x":39,"y":39},{"x":43,"y":38},{"x":30,"y":34},{"x":36,"y":33},{"x":41,"y":32},{"x":47,"y":33},{"x":27,"y":28},{"x":33,"y":26},{"x":38,"y":25},{"x":44,"y":24},{"x":31,"y":20},{"x":36,"y":18},{"x":41,"y":17},{"x":46,"y":16},{"x":34,"y":12},{"x":39,"y":10},{"x":44,"y":9},{"x":37,"y":5},{"x":42,"y":4},{"x":10,"y":22},{"x":7,"y":12},{"x":15,"y":38},{"x":70,"y":28},{"x":60,"y":10},{"x":22,"y":60},{"x":48,"y":70},{"x":40,"y":70},{"x":26,"y":48},{"x":35,"y":66},{"x":49,"y":40},{"x":29,"y":14}]},"mark":{"type":"circle","size":3,"color":"#4a5bd8","opacity":0.8}},
{"data":{"name":"mask"},"mark":{"type":"rect","color":"white"},"encoding":{"x2":{"field":"x2"},"y2":{"field":"y2"}}},
{"data":{"name":"frame"},"mark":{"type":"rect","fill":null,"stroke":"#888","strokeWidth":1.2},"encoding":{"x2":{"field":"x2"},"y2":{"field":"y2"}}},
{"data":{"values":[{"x":48.5,"x2":48.5,"y":0,"y2":100},{"x":0,"x2":100,"y":32,"y2":32}]},"mark":"rule","encoding":{"x2":{"field":"x2"},"y2":{"field":"y2"}}},
{"data":{"values":[{"x":2,"y":94,"t":"49.4"}]},"mark":{"type":"text","align":"left","fontSize":10.5},"encoding":{"text":{"field":"t"}}},
{"data":{"values":[{"x":98,"y":94,"t":"1.0"},{"x":98,"y":7,"t":"0.2"}]},"mark":{"type":"text","align":"right","fontSize":10.5},"encoding":{"text":{"field":"t"}}}
]},
{"encoding":{"x":{"field":"x","type":"quantitative","scale":{"domain":[0,100],"range":[130,230.7]}},"y":{"field":"y","type":"quantitative","scale":{"domain":[0,100],"range":[1647.3,1564]}}},"layer":[
{"data":{"values":[{"x":39,"y":50,"n":300,"d":1},{"x":38,"y":30,"n":350,"d":1},{"x":39,"y":12,"n":200,"d":1}]},"mark":{"type":"circle","opacity":1},"encoding":{"size":{"field":"n","type":"quantitative","scale":{"domain":[0,1000],"range":[0,1000]},"legend":null},"color":{"field":"d","type":"ordinal","scale":{"domain":[1,2,3,4,5,6],"range":["#d5daf8","#3c48d6","#0c0c96","#0a9aa8","#12e070","#d06a1a"]},"legend":null}}},
{"data":{"values":[{"x":35,"y":70},{"x":38,"y":66},{"x":41,"y":64},{"x":36,"y":60},{"x":40,"y":58},{"x":43,"y":60},{"x":34,"y":54},{"x":38,"y":52},{"x":42,"y":53},{"x":37,"y":47},{"x":41,"y":46},{"x":45,"y":48},{"x":33,"y":42},{"x":38,"y":40},{"x":43,"y":40},{"x":47,"y":38},{"x":30,"y":34},{"x":35,"y":32},{"x":40,"y":30},{"x":45,"y":32},{"x":28,"y":26},{"x":33,"y":24},{"x":38,"y":22},{"x":44,"y":24},{"x":31,"y":16},{"x":36,"y":15},{"x":41,"y":14},{"x":46,"y":16},{"x":38,"y":8},{"x":42,"y":6},{"x":40,"y":3},{"x":18,"y":58},{"x":12,"y":45},{"x":8,"y":20},{"x":20,"y":75},{"x":25,"y":65},{"x":50,"y":55},{"x":62,"y":30},{"x":65,"y":12},{"x":48,"y":12}]},"mark":{"type":"circle","size":3,"color":"#4a5bd8","opacity":0.8}},
{"data":{"name":"mask"},"mark":{"type":"rect","color":"white"},"encoding":{"x2":{"field":"x2"},"y2":{"field":"y2"}}},
{"data":{"name":"frame"},"mark":{"type":"rect","fill":null,"stroke":"#888","strokeWidth":1.2},"encoding":{"x2":{"field":"x2"},"y2":{"field":"y2"}}},
{"data":{"values":[{"x":49,"x2":49,"y":0,"y2":100},{"x":0,"x2":100,"y":33,"y2":33}]},"mark":"rule","encoding":{"x2":{"field":"x2"},"y2":{"field":"y2"}}},
{"data":{"values":[{"x":2,"y":94,"t":"52.3"}]},"mark":{"type":"text","align":"left","fontSize":10.5},"encoding":{"text":{"field":"t"}}},
{"data":{"values":[{"x":98,"y":94,"t":"0.3"},{"x":98,"y":7,"t":"0.6"}]},"mark":{"type":"text","align":"right","fontSize":10.5},"encoding":{"text":{"field":"t"}}}
]},
{"encoding":{"x":{"field":"x","type":"quantitative","scale":{"domain":[0,100],"range":[22.7,123.3]}},"y":{"field":"y","type":"quantitative","scale":{"domain":[0,100],"range":[1780,1688.7]}}},"layer":[
{"data":{"values":[{"x":20,"y":45,"n":300,"d":1},{"x":25,"y":30,"n":1200,"d":1},{"x":10,"y":15,"n":400,"d":1},{"x":33,"y":15,"n":600,"d":1},{"x":12,"y":14,"n":600,"d":2},{"x":24,"y":22,"n":1100,"d":2},{"x":32,"y":14,"n":300,"d":2},{"x":22,"y":15,"n":900,"d":3},{"x":22,"y":15,"n":500,"d":4},{"x":22,"y":15,"n":340,"d":5}]},"mark":{"type":"circle","opacity":1},"encoding":{"size":{"field":"n","type":"quantitative","scale":{"domain":[0,1000],"range":[0,1000]},"legend":null},"color":{"field":"d","type":"ordinal","scale":{"domain":[1,2,3,4,5,6],"range":["#d5daf8","#3c48d6","#0c0c96","#0a9aa8","#12e070","#d06a1a"]},"legend":null}}},
{"data":{"values":[{"x":22,"y":85},{"x":26,"y":80},{"x":18,"y":75},{"x":29,"y":72},{"x":23,"y":68},{"x":15,"y":64},{"x":32,"y":65},{"x":20,"y":60},{"x":27,"y":58},{"x":12,"y":55},{"x":24,"y":52},{"x":34,"y":55},{"x":17,"y":50},{"x":30,"y":48},{"x":8,"y":46},{"x":21,"y":44},{"x":36,"y":42},{"x":13,"y":40},{"x":28,"y":40},{"x":4,"y":38},{"x":38,"y":35},{"x":42,"y":28},{"x":44,"y":18},{"x":43,"y":8},{"x":46,"y":22},{"x":3,"y":30},{"x":25,"y":90}]},"mark":{"type":"circle","size":3,"color":"#4a5bd8","opacity":0.8}},
{"data":{"name":"mask"},"mark":{"type":"rect","color":"white"},"encoding":{"x2":{"field":"x2"},"y2":{"field":"y2"}}},
{"data":{"name":"frame"},"mark":{"type":"rect","fill":null,"stroke":"#888","strokeWidth":1.2},"encoding":{"x2":{"field":"x2"},"y2":{"field":"y2"}}},
{"data":{"values":[{"x":34,"x2":34,"y":0,"y2":100},{"x":0,"x2":100,"y":31,"y2":31}]},"mark":"rule","encoding":{"x2":{"field":"x2"},"y2":{"field":"y2"}}},
{"data":{"values":[{"x":2,"y":96,"t":"2.6"}]},"mark":{"type":"text","align":"left","fontSize":10.5},"encoding":{"text":{"field":"t"}}},
{"data":{"values":[{"x":98,"y":96,"t":"0.3"},{"x":98,"y":5,"t":"1.4"}]},"mark":{"type":"text","align":"right","fontSize":10.5},"encoding":{"text":{"field":"t"}}}
]},
{"encoding":{"x":{"field":"x","type":"quantitative","scale":{"domain":[0,100],"range":[130.7,234.3]}},"y":{"field":"y","type":"quantitative","scale":{"domain":[0,100],"range":[1780,1688.7]}}},"layer":[
{"data":{"values":[{"x":22,"y":50,"n":350,"d":1},{"x":22,"y":35,"n":1300,"d":1},{"x":10,"y":15,"n":400,"d":1},{"x":36,"y":15,"n":700,"d":1},{"x":12,"y":14,"n":600,"d":2},{"x":24,"y":22,"n":1300,"d":2},{"x":33,"y":14,"n":400,"d":2},{"x":23,"y":15,"n":1000,"d":3},{"x":23,"y":15,"n":620,"d":4},{"x":23,"y":15,"n":430,"d":5}]},"mark":{"type":"circle","opacity":1},"encoding":{"size":{"field":"n","type":"quantitative","scale":{"domain":[0,1000],"range":[0,1000]},"legend":null},"color":{"field":"d","type":"ordinal","scale":{"domain":[1,2,3,4,5,6],"range":["#d5daf8","#3c48d6","#0c0c96","#0a9aa8","#12e070","#d06a1a"]},"legend":null}}},
{"data":{"values":[{"x":20,"y":88},{"x":24,"y":82},{"x":28,"y":78},{"x":16,"y":76},{"x":22,"y":72},{"x":30,"y":70},{"x":12,"y":68},{"x":18,"y":64},{"x":26,"y":62},{"x":33,"y":60},{"x":10,"y":58},{"x":21,"y":56},{"x":29,"y":52},{"x":14,"y":50},{"x":36,"y":48},{"x":7,"y":46},{"x":24,"y":46},{"x":38,"y":40},{"x":4,"y":40},{"x":17,"y":44},{"x":41,"y":35},{"x":45,"y":25},{"x":47,"y":15},{"x":46,"y":6},{"x":31,"y":85},{"x":27,"y":92}]},"mark":{"type":"circle","size":3,"color":"#4a5bd8","opacity":0.8}},
{"data":{"name":"mask"},"mark":{"type":"rect","color":"white"},"encoding":{"x2":{"field":"x2"},"y2":{"field":"y2"}}},
{"data":{"name":"frame"},"mark":{"type":"rect","fill":null,"stroke":"#888","strokeWidth":1.2},"encoding":{"x2":{"field":"x2"},"y2":{"field":"y2"}}},
{"data":{"values":[{"x":33,"x2":33,"y":0,"y2":100},{"x":0,"x2":100,"y":31,"y2":31}]},"mark":"rule","encoding":{"x2":{"field":"x2"},"y2":{"field":"y2"}}},
{"data":{"values":[{"x":2,"y":96,"t":"2.8"}]},"mark":{"type":"text","align":"left","fontSize":10.5},"encoding":{"text":{"field":"t"}}},
{"data":{"values":[{"x":98,"y":96,"t":"0.2"},{"x":98,"y":5,"t":"1.3"}]},"mark":{"type":"text","align":"right","fontSize":10.5},"encoding":{"text":{"field":"t"}}}
]},
{"encoding":{"x":{"field":"x","type":"quantitative","scale":{"domain":[0,100],"range":[22.7,122.7]}},"y":{"field":"y","type":"quantitative","scale":{"domain":[0,100],"range":[1880,1789]}}},"layer":[
{"data":{"values":[{"x":28,"y":40,"n":500,"d":1},{"x":22,"y":15,"n":300,"d":1},{"x":40,"y":47,"n":150,"d":1}]},"mark":{"type":"circle","opacity":1},"encoding":{"size":{"field":"n","type":"quantitative","scale":{"domain":[0,1000],"range":[0,1000]},"legend":null},"color":{"field":"d","type":"ordinal","scale":{"domain":[1,2,3,4,5,6],"range":["#d5daf8","#3c48d6","#0c0c96","#0a9aa8","#12e070","#d06a1a"]},"legend":null}}},
{"data":{"values":[{"x":38,"y":82},{"x":40,"y":75},{"x":42,"y":66},{"x":36,"y":60},{"x":45,"y":60},{"x":30,"y":58},{"x":26,"y":55},{"x":22,"y":52},{"x":34,"y":52},{"x":40,"y":50},{"x":45,"y":48},{"x":18,"y":46},{"x":24,"y":46},{"x":30,"y":44},{"x":36,"y":42},{"x":41,"y":40},{"x":20,"y":38},{"x":26,"y":36},{"x":32,"y":34},{"x":38,"y":33},{"x":16,"y":28},{"x":22,"y":27},{"x":28,"y":26},{"x":33,"y":24},{"x":18,"y":20},{"x":24,"y":18},{"x":30,"y":17},{"x":14,"y":14},{"x":20,"y":12},{"x":26,"y":10},{"x":32,"y":9},{"x":16,"y":6},{"x":24,"y":4},{"x":29,"y":3},{"x":8,"y":22},{"x":5,"y":48},{"x":48,"y":40},{"x":62,"y":4},{"x":60,"y":78},{"x":33,"y":68}]},"mark":{"type":"circle","size":3,"color":"#4a5bd8","opacity":0.8}},
{"data":{"name":"mask"},"mark":{"type":"rect","color":"white"},"encoding":{"x2":{"field":"x2"},"y2":{"field":"y2"}}},
{"data":{"name":"frame"},"mark":{"type":"rect","fill":null,"stroke":"#888","strokeWidth":1.2},"encoding":{"x2":{"field":"x2"},"y2":{"field":"y2"}}},
{"data":{"values":[{"x":34,"x2":34,"y":0,"y2":100},{"x":0,"x2":100,"y":31,"y2":31}]},"mark":"rule","encoding":{"x2":{"field":"x2"},"y2":{"field":"y2"}}},
{"data":{"values":[{"x":2,"y":96,"t":"47.7"}]},"mark":{"type":"text","align":"left","fontSize":10.5},"encoding":{"text":{"field":"t"}}},
{"data":{"values":[{"x":98,"y":96,"t":"19.9"},{"x":98,"y":6,"t":"1.8"}]},"mark":{"type":"text","align":"right","fontSize":10.5},"encoding":{"text":{"field":"t"}}}
]},
{"encoding":{"x":{"field":"x","type":"quantitative","scale":{"domain":[0,100],"range":[130.7,234.3]}},"y":{"field":"y","type":"quantitative","scale":{"domain":[0,100],"range":[1880,1789]}}},"layer":[
{"data":{"values":[{"x":32,"y":45,"n":700,"d":1},{"x":28,"y":20,"n":300,"d":1}]},"mark":{"type":"circle","opacity":1},"encoding":{"size":{"field":"n","type":"quantitative","scale":{"domain":[0,1000],"range":[0,1000]},"legend":null},"color":{"field":"d","type":"ordinal","scale":{"domain":[1,2,3,4,5,6],"range":["#d5daf8","#3c48d6","#0c0c96","#0a9aa8","#12e070","#d06a1a"]},"legend":null}}},
{"data":{"values":[{"x":33,"y":82},{"x":30,"y":75},{"x":36,"y":70},{"x":42,"y":65},{"x":28,"y":62},{"x":35,"y":60},{"x":44,"y":58},{"x":22,"y":56},{"x":29,"y":54},{"x":37,"y":53},{"x":45,"y":50},{"x":18,"y":50},{"x":25,"y":47},{"x":32,"y":46},{"x":39,"y":44},{"x":44,"y":42},{"x":20,"y":40},{"x":27,"y":38},{"x":34,"y":37},{"x":40,"y":36},{"x":22,"y":30},{"x":28,"y":28},{"x":33,"y":26},{"x":24,"y":20},{"x":30,"y":18},{"x":35,"y":15},{"x":26,"y":10},{"x":32,"y":8},{"x":29,"y":3},{"x":34,"y":4},{"x":15,"y":35},{"x":10,"y":62},{"x":50,"y":70},{"x":48,"y":34},{"x":55,"y":56},{"x":38,"y":24},{"x":20,"y":72},{"x":42,"y":28}]},"mark":{"type":"circle","size":3,"color":"#4a5bd8","opacity":0.8}},
{"data":{"name":"mask"},"mark":{"type":"rect","color":"white"},"encoding":{"x2":{"field":"x2"},"y2":{"field":"y2"}}},
{"data":{"name":"frame"},"mark":{"type":"rect","fill":null,"stroke":"#888","strokeWidth":1.2},"encoding":{"x2":{"field":"x2"},"y2":{"field":"y2"}}},
{"data":{"values":[{"x":33,"x2":33,"y":0,"y2":100},{"x":0,"x2":100,"y":31,"y2":31}]},"mark":"rule","encoding":{"x2":{"field":"x2"},"y2":{"field":"y2"}}},
{"data":{"values":[{"x":2,"y":96,"t":"41.3"}]},"mark":{"type":"text","align":"left","fontSize":10.5},"encoding":{"text":{"field":"t"}}},
{"data":{"values":[{"x":98,"y":96,"t":"39.1"},{"x":98,"y":6,"t":"4.5"}]},"mark":{"type":"text","align":"right","fontSize":10.5},"encoding":{"text":{"field":"t"}}}
]},
{"encoding":{"x":{"field":"x","type":"quantitative","scale":{"domain":[0,100],"range":[25.3,125.7]}},"y":{"field":"y","type":"quantitative","scale":{"domain":[0,100],"range":[2010.7,1926]}}},"layer":[
{"data":{"values":[{"x":22,"y":15,"n":900,"d":1},{"x":32,"y":32,"n":300,"d":1},{"x":8,"y":8,"n":200,"d":1},{"x":22,"y":12,"n":500,"d":2},{"x":33,"y":20,"n":120,"d":2},{"x":22,"y":9,"n":280,"d":3},{"x":23,"y":8,"n":90,"d":4},{"x":23,"y":8,"n":30,"d":5}]},"mark":{"type":"circle","opacity":1},"encoding":{"size":{"field":"n","type":"quantitative","scale":{"domain":[0,1000],"range":[0,1000]},"legend":null},"color":{"field":"d","type":"ordinal","scale":{"domain":[1,2,3,4,5,6],"range":["#d5daf8","#3c48d6","#0c0c96","#0a9aa8","#12e070","#d06a1a"]},"legend":null}}},
{"data":{"values":[{"x":33,"y":62},{"x":36,"y":58},{"x":30,"y":55},{"x":39,"y":52},{"x":34,"y":50},{"x":28,"y":48},{"x":41,"y":46},{"x":32,"y":44},{"x":37,"y":42},{"x":26,"y":42},{"x":43,"y":38},{"x":30,"y":36},{"x":35,"y":34},{"x":40,"y":32},{"x":24,"y":34},{"x":45,"y":28},{"x":20,"y":30},{"x":48,"y":18},{"x":50,"y":10},{"x":45,"y":5},{"x":12,"y":28},{"x":6,"y":15},{"x":3,"y":6},{"x":55,"y":20},{"x":60,"y":8},{"x":38,"y":70},{"x":16,"y":38},{"x":28,"y":62},{"x":70,"y":6},{"x":44,"y":55}]},"mark":{"type":"circle","size":3,"color":"#4a5bd8","opacity":0.8}},
{"data":{"name":"mask"},"mark":{"type":"rect","color":"white"},"encoding":{"x2":{"field":"x2"},"y2":{"field":"y2"}}},
{"data":{"name":"frame"},"mark":{"type":"rect","fill":null,"stroke":"#888","strokeWidth":1.2},"encoding":{"x2":{"field":"x2"},"y2":{"field":"y2"}}},
{"data":{"values":[{"x":35,"x2":35,"y":0,"y2":100},{"x":0,"x2":100,"y":25,"y2":25}]},"mark":"rule","encoding":{"x2":{"field":"x2"},"y2":{"field":"y2"}}},
{"data":{"values":[{"x":2,"y":95,"t":"3.9"}]},"mark":{"type":"text","align":"left","fontSize":10.5},"encoding":{"text":{"field":"t"}}},
{"data":{"values":[{"x":98,"y":95,"t":"1.1"},{"x":98,"y":5,"t":"1.4"}]},"mark":{"type":"text","align":"right","fontSize":10.5},"encoding":{"text":{"field":"t"}}}
]},
{"encoding":{"x":{"field":"x","type":"quantitative","scale":{"domain":[0,100],"range":[131,230]}},"y":{"field":"y","type":"quantitative","scale":{"domain":[0,100],"range":[2010.7,1926]}}},"layer":[
{"data":{"values":[{"x":24,"y":15,"n":1100,"d":1},{"x":35,"y":32,"n":300,"d":1},{"x":8,"y":8,"n":300,"d":1},{"x":24,"y":12,"n":650,"d":2},{"x":35,"y":20,"n":120,"d":2},{"x":24,"y":8,"n":350,"d":3},{"x":24,"y":7,"n":120,"d":4},{"x":24,"y":6,"n":50,"d":5}]},"mark":{"type":"circle","opacity":1},"encoding":{"size":{"field":"n","type":"quantitative","scale":{"domain":[0,1000],"range":[0,1000]},"legend":null},"color":{"field":"d","type":"ordinal","scale":{"domain":[1,2,3,4,5,6],"range":["#d5daf8","#3c48d6","#0c0c96","#0a9aa8","#12e070","#d06a1a"]},"legend":null}}},
{"data":{"values":[{"x":33,"y":70},{"x":35,"y":62},{"x":31,"y":58},{"x":38,"y":56},{"x":28,"y":52},{"x":34,"y":50},{"x":40,"y":48},{"x":25,"y":46},{"x":31,"y":44},{"x":37,"y":42},{"x":43,"y":40},{"x":22,"y":38},{"x":28,"y":36},{"x":34,"y":34},{"x":40,"y":32},{"x":46,"y":28},{"x":18,"y":30},{"x":50,"y":20},{"x":52,"y":10},{"x":48,"y":5},{"x":10,"y":25},{"x":5,"y":14},{"x":3,"y":6},{"x":58,"y":15},{"x":62,"y":6},{"x":27,"y":66},{"x":15,"y":36},{"x":42,"y":60},{"x":75,"y":8}]},"mark":{"type":"circle","size":3,"color":"#4a5bd8","opacity":0.8}},
{"data":{"name":"mask"},"mark":{"type":"rect","color":"white"},"encoding":{"x2":{"field":"x2"},"y2":{"field":"y2"}}},
{"data":{"name":"frame"},"mark":{"type":"rect","fill":null,"stroke":"#888","strokeWidth":1.2},"encoding":{"x2":{"field":"x2"},"y2":{"field":"y2"}}},
{"data":{"values":[{"x":35,"x2":35,"y":0,"y2":100},{"x":0,"x2":100,"y":25,"y2":25}]},"mark":"rule","encoding":{"x2":{"field":"x2"},"y2":{"field":"y2"}}},
{"data":{"values":[{"x":2,"y":95,"t":"1.4"}]},"mark":{"type":"text","align":"left","fontSize":10.5},"encoding":{"text":{"field":"t"}}},
{"data":{"values":[{"x":98,"y":95,"t":"0.5"},{"x":98,"y":5,"t":"4.1"}]},"mark":{"type":"text","align":"right","fontSize":10.5},"encoding":{"text":{"field":"t"}}}
]},
{"encoding":{"x":{"field":"x","type":"quantitative","scale":{"domain":[0,100],"range":[26.7,126]}},"y":{"field":"y","type":"quantitative","scale":{"domain":[0,100],"range":[2098.3,2017.3]}}},"layer":[
{"data":{"values":[{"x":34,"y":38,"n":500,"d":1},{"x":30,"y":10,"n":300,"d":1}]},"mark":{"type":"circle","opacity":1},"encoding":{"size":{"field":"n","type":"quantitative","scale":{"domain":[0,1000],"range":[0,1000]},"legend":null},"color":{"field":"d","type":"ordinal","scale":{"domain":[1,2,3,4,5,6],"range":["#d5daf8","#3c48d6","#0c0c96","#0a9aa8","#12e070","#d06a1a"]},"legend":null}}},
{"data":{"values":[{"x":33,"y":58},{"x":36,"y":55},{"x":30,"y":52},{"x":38,"y":50},{"x":27,"y":48},{"x":33,"y":47},{"x":41,"y":46},{"x":29,"y":43},{"x":35,"y":42},{"x":44,"y":41},{"x":25,"y":38},{"x":31,"y":37},{"x":37,"y":36},{"x":47,"y":37},{"x":28,"y":32},{"x":34,"y":31},{"x":40,"y":30},{"x":22,"y":27},{"x":30,"y":26},{"x":36,"y":25},{"x":20,"y":18},{"x":27,"y":19},{"x":33,"y":17},{"x":38,"y":16},{"x":15,"y":14},{"x":24,"y":12},{"x":31,"y":10},{"x":36,"y":9},{"x":10,"y":8},{"x":20,"y":6},{"x":28,"y":4},{"x":35,"y":3},{"x":5,"y":20},{"x":60,"y":34},{"x":55,"y":10},{"x":30,"y":66},{"x":34,"y":72}]},"mark":{"type":"circle","size":3,"color":"#4a5bd8","opacity":0.8}},
{"data":{"name":"mask"},"mark":{"type":"rect","color":"white"},"encoding":{"x2":{"field":"x2"},"y2":{"field":"y2"}}},
{"data":{"name":"frame"},"mark":{"type":"rect","fill":null,"stroke":"#888","strokeWidth":1.2},"encoding":{"x2":{"field":"x2"},"y2":{"field":"y2"}}},
{"data":{"values":[{"x":35,"x2":35,"y":0,"y2":100},{"x":0,"x2":100,"y":25,"y2":25}]},"mark":"rule","encoding":{"x2":{"field":"x2"},"y2":{"field":"y2"}}},
{"data":{"values":[{"x":2,"y":95,"t":"40.6"}]},"mark":{"type":"text","align":"left","fontSize":10.5},"encoding":{"text":{"field":"t"}}},
{"data":{"values":[{"x":98,"y":95,"t":"24.1"},{"x":98,"y":6,"t":"3.2"}]},"mark":{"type":"text","align":"right","fontSize":10.5},"encoding":{"text":{"field":"t"}}}
]},
{"encoding":{"x":{"field":"x","type":"quantitative","scale":{"domain":[0,100],"range":[131,230]}},"y":{"field":"y","type":"quantitative","scale":{"domain":[0,100],"range":[2098.3,2017.3]}}},"layer":[
{"data":{"values":[{"x":33,"y":38,"n":600,"d":1},{"x":29,"y":12,"n":350,"d":1}]},"mark":{"type":"circle","opacity":1},"encoding":{"size":{"field":"n","type":"quantitative","scale":{"domain":[0,1000],"range":[0,1000]},"legend":null},"color":{"field":"d","type":"ordinal","scale":{"domain":[1,2,3,4,5,6],"range":["#d5daf8","#3c48d6","#0c0c96","#0a9aa8","#12e070","#d06a1a"]},"legend":null}}},
{"data":{"values":[{"x":31,"y":60},{"x":34,"y":56},{"x":28,"y":54},{"x":38,"y":52},{"x":25,"y":50},{"x":32,"y":48},{"x":40,"y":47},{"x":44,"y":45},{"x":27,"y":44},{"x":34,"y":42},{"x":48,"y":42},{"x":22,"y":40},{"x":30,"y":38},{"x":37,"y":37},{"x":43,"y":36},{"x":26,"y":33},{"x":33,"y":32},{"x":40,"y":30},{"x":20,"y":28},{"x":29,"y":26},{"x":35,"y":24},{"x":16,"y":22},{"x":25,"y":19},{"x":32,"y":18},{"x":37,"y":15},{"x":12,"y":16},{"x":22,"y":12},{"x":30,"y":10},{"x":36,"y":8},{"x":18,"y":8},{"x":27,"y":4},{"x":34,"y":3},{"x":8,"y":10},{"x":55,"y":38},{"x":52,"y":12},{"x":30,"y":70}]},"mark":{"type":"circle","size":3,"color":"#4a5bd8","opacity":0.8}},
{"data":{"name":"mask"},"mark":{"type":"rect","color":"white"},"encoding":{"x2":{"field":"x2"},"y2":{"field":"y2"}}},
{"data":{"name":"frame"},"mark":{"type":"rect","fill":null,"stroke":"#888","strokeWidth":1.2},"encoding":{"x2":{"field":"x2"},"y2":{"field":"y2"}}},
{"data":{"values":[{"x":35,"x2":35,"y":0,"y2":100},{"x":0,"x2":100,"y":25,"y2":25}]},"mark":"rule","encoding":{"x2":{"field":"x2"},"y2":{"field":"y2"}}},
{"data":{"values":[{"x":2,"y":95,"t":"37.4"}]},"mark":{"type":"text","align":"left","fontSize":10.5},"encoding":{"text":{"field":"t"}}},
{"data":{"values":[{"x":98,"y":95,"t":"18.1"},{"x":98,"y":6,"t":"3.8"}]},"mark":{"type":"text","align":"right","fontSize":10.5},"encoding":{"text":{"field":"t"}}}
]},
{"encoding":{"x":{"field":"x","type":"quantitative","scale":{"domain":[0,840],"range":[0,280]}},"y":{"field":"y","type":"quantitative","scale":{"domain":[0,690],"range":[1440,1670]}}},"layer":[
{"data":{"values":[{"x":45,"x2":45,"y":610,"y2":170},{"x":142,"x2":625,"y":635,"y2":635}]},"mark":{"type":"rule","color":"#111","strokeWidth":1.6},"encoding":{"x2":{"field":"x2"},"y2":{"field":"y2"}}},
{"data":{"values":[{"x":45,"y":170}]},"mark":{"type":"point","shape":"triangle-up","filled":true,"size":40,"color":"#111","opacity":1}},
{"data":{"values":[{"x":625,"y":635}]},"mark":{"type":"point","shape":"triangle-right","filled":true,"size":40,"color":"#111","opacity":1}},
{"data":{"values":[{"x":228,"y":85,"t":"DSS"},{"x":563,"y":85,"t":"PBS"},{"x":377,"y":665,"t":"T-bet"}]},"mark":{"type":"text","fontSize":13,"baseline":"alphabetic"},"encoding":{"text":{"field":"t"}}},
{"data":{"values":[{"x":25,"y":410,"t":"NKG2D"}]},"mark":{"type":"text","fontSize":15,"angle":270},"encoding":{"text":{"field":"t"}}},
{"data":{"values":[{"x":712,"y":230,"t":"NK1.1⁻CD4⁺"},{"x":712,"y":488,"t":"NK1.1⁺CD4⁺"}]},"mark":{"type":"text","fontSize":11.5,"angle":270},"encoding":{"text":{"field":"t"}}},
{"data":{"values":[{"x":36,"y":87,"t":"C"}]},"mark":{"type":"text","font":"Liberation Sans","fontWeight":"bold","fontSize":9,"baseline":"alphabetic","color":"#111"},"encoding":{"text":{"field":"t"}}}
]},
{"encoding":{"x":{"field":"x","type":"quantitative","scale":{"domain":[0,840],"range":[0,280]}},"y":{"field":"y","type":"quantitative","scale":{"domain":[0,690],"range":[1660,1890]}}},"layer":[
{"data":{"values":[{"x":58,"x2":58,"y":620,"y2":180},{"x":165,"x2":645,"y":678,"y2":678}]},"mark":{"type":"rule","color":"#111","strokeWidth":1.6},"encoding":{"x2":{"field":"x2"},"y2":{"field":"y2"}}},
{"data":{"values":[{"x":58,"y":180}]},"mark":{"type":"point","shape":"triangle-up","filled":true,"size":40,"color":"#111","opacity":1}},
{"data":{"values":[{"x":645,"y":678}]},"mark":{"type":"point","shape":"triangle-right","filled":true,"size":40,"color":"#111","opacity":1}},
{"data":{"values":[{"x":227,"y":80,"t":"DSS"},{"x":527,"y":80,"t":"PBS"},{"x":390,"y":711,"t":"ROR-γt"}]},"mark":{"type":"text","fontSize":13,"baseline":"alphabetic"},"encoding":{"text":{"field":"t"}}},
{"data":{"values":[{"x":37,"y":410,"t":"NKG2D"}]},"mark":{"type":"text","fontSize":15,"angle":270},"encoding":{"text":{"field":"t"}}},
{"data":{"values":[{"x":727,"y":258,"t":"NK1.1⁻CD4⁺"},{"x":727,"y":522,"t":"NK1.1⁺CD4⁺"}]},"mark":{"type":"text","fontSize":11.5,"angle":270},"encoding":{"text":{"field":"t"}}},
{"data":{"values":[{"x":36,"y":64,"t":"D"}]},"mark":{"type":"text","font":"Liberation Sans","fontWeight":"bold","fontSize":9,"baseline":"alphabetic","color":"#111"},"encoding":{"text":{"field":"t"}}}
]},
{"encoding":{"x":{"field":"x","type":"quantitative","scale":{"domain":[0,840],"range":[0,280]}},"y":{"field":"y","type":"quantitative","scale":{"domain":[0,690],"range":[1884,2114]}}},"layer":[
{"data":{"values":[{"x":58,"x2":58,"y":640,"y2":200},{"x":157,"x2":640,"y":652,"y2":652}]},"mark":{"type":"rule","color":"#111","strokeWidth":1.6},"encoding":{"x2":{"field":"x2"},"y2":{"field":"y2"}}},
{"data":{"values":[{"x":58,"y":200}]},"mark":{"type":"point","shape":"triangle-up","filled":true,"size":40,"color":"#111","opacity":1}},
{"data":{"values":[{"x":640,"y":652}]},"mark":{"type":"point","shape":"triangle-right","filled":true,"size":40,"color":"#111","opacity":1}},
{"data":{"values":[{"x":238,"y":118,"t":"DSS"},{"x":538,"y":118,"t":"PBS"},{"x":388,"y":680,"t":"GATA-3"}]},"mark":{"type":"text","fontSize":13,"baseline":"alphabetic"},"encoding":{"text":{"field":"t"}}},
{"data":{"values":[{"x":37,"y":415,"t":"NKG2D"}]},"mark":{"type":"text","fontSize":15,"angle":270},"encoding":{"text":{"field":"t"}}},
{"data":{"values":[{"x":712,"y":255,"t":"NK1.1⁻CD4⁺"},{"x":712,"y":525,"t":"NK1.1⁺CD4⁺"}]},"mark":{"type":"text","fontSize":11.5,"angle":270},"encoding":{"text":{"field":"t"}}},
{"data":{"values":[{"x":36,"y":106,"t":"E"}]},"mark":{"type":"text","font":"Liberation Sans","fontWeight":"bold","fontSize":9,"baseline":"alphabetic","color":"#111"},"encoding":{"text":{"field":"t"}}}
]}
]}
